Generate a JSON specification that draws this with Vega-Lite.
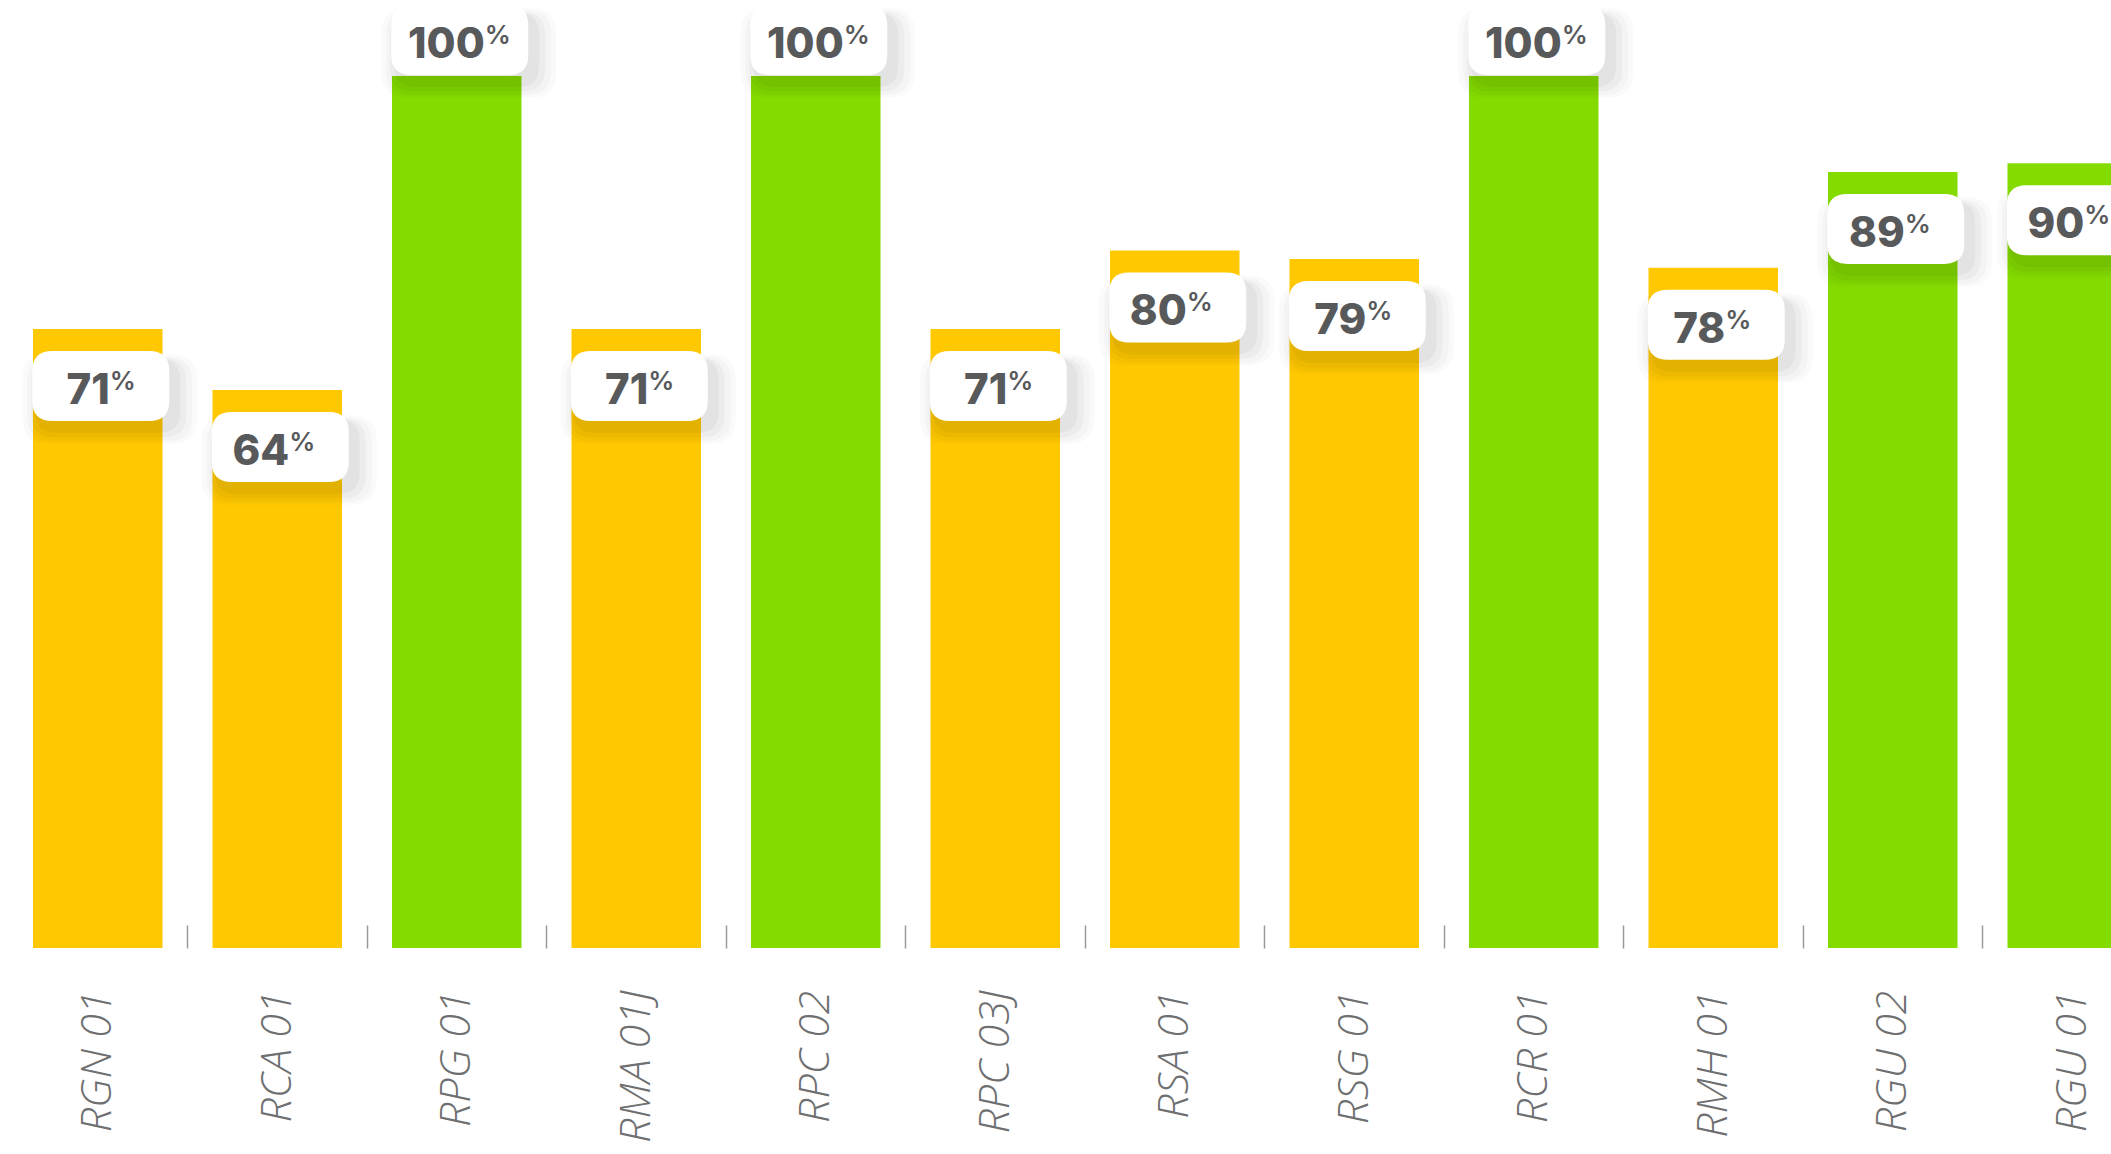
{
  "$schema": "https://vega.github.io/schema/vega-lite/v6.json",
  "autosize": "none",
  "width": 2154,
  "height": 872,
  "padding": {"left": 8, "top": 76, "right": 0, "bottom": 206},
  "background": "white",
  "config": {"view": {"stroke": null}},
  "data": {
    "values": [
      {"label": "RGN 01", "value": 71},
      {"label": "RCA 01", "value": 64},
      {"label": "RPG 01", "value": 100},
      {"label": "RMA 01J", "value": 71},
      {"label": "RPC 02", "value": 100},
      {"label": "RPC 03J", "value": 71},
      {"label": "RSA 01", "value": 80},
      {"label": "RSG 01", "value": 79},
      {"label": "RCR 01", "value": 100},
      {"label": "RMH 01", "value": 78},
      {"label": "RGU 02", "value": 89},
      {"label": "RGU 01", "value": 90}
    ]
  },
  "encoding": {
    "x": {
      "field": "label",
      "type": "nominal",
      "sort": null,
      "scale": {"paddingInner": 0.2786, "paddingOuter": 0.1393},
      "axis": {
        "title": null,
        "domain": false,
        "grid": false,
        "ticks": true,
        "bandPosition": 1,
        "tickOffset": 25,
        "tickColor": "#9A9A9A",
        "tickWidth": 1.5,
        "tickSize": 23,
        "offset": -23,
        "labelAngle": -90,
        "labelAlign": "right",
        "labelBaseline": "middle",
        "labelPadding": 42,
        "labelOffset": -25,
        "labelFont": "Open Sans",
        "labelFontStyle": "italic",
        "labelFontWeight": 300,
        "labelFontSize": 43,
        "labelColor": "#6E6F71",
        "labelOverlap": false,
        "labelBound": false,
        "labelLimit": 0
      }
    },
    "y": {
      "field": "value",
      "type": "quantitative",
      "scale": {"domain": [0, 100], "nice": false, "zero": true},
      "axis": null
    }
  },
  "layer": [
    {
      "mark": {"type": "bar", "opacity": 1},
      "encoding": {
        "color": {
          "condition": {"test": "datum.value >= 85", "value": "#84DB00"},
          "value": "#FFC800"
        }
      }
    },
    {
      "transform": [{"filter": "datum.value < 100"}],
      "layer": [
        {
          "mark": {"type": "point", "filled": true, "strokeWidth": 0, "color": "#000000", "opacity": 0.02, "size": 30625, "xOffset": 12, "yOffset": 70,
            "shape": "M -0.708 -0.511 L 0.708 -0.511 Q 1 -0.511 1 -0.219 L 1 0.219 Q 1 0.511 0.708 0.511 L -0.708 0.511 Q -1 0.511 -1 0.219 L -1 -0.219 Q -1 -0.511 -0.708 -0.511 Z"}
        },
        {
          "mark": {"type": "point", "filled": true, "strokeWidth": 0, "color": "#000000", "opacity": 0.025, "size": 27225, "xOffset": 12, "yOffset": 70,
            "shape": "M -0.708 -0.511 L 0.708 -0.511 Q 1 -0.511 1 -0.219 L 1 0.219 Q 1 0.511 0.708 0.511 L -0.708 0.511 Q -1 0.511 -1 0.219 L -1 -0.219 Q -1 -0.511 -0.708 -0.511 Z"}
        },
        {
          "mark": {"type": "point", "filled": true, "strokeWidth": 0, "color": "#000000", "opacity": 0.03, "size": 24025, "xOffset": 11, "yOffset": 69,
            "shape": "M -0.708 -0.511 L 0.708 -0.511 Q 1 -0.511 1 -0.219 L 1 0.219 Q 1 0.511 0.708 0.511 L -0.708 0.511 Q -1 0.511 -1 0.219 L -1 -0.219 Q -1 -0.511 -0.708 -0.511 Z"}
        },
        {
          "mark": {"type": "point", "filled": true, "strokeWidth": 0, "color": "#000000", "opacity": 0.035, "size": 21025, "xOffset": 10, "yOffset": 67,
            "shape": "M -0.708 -0.511 L 0.708 -0.511 Q 1 -0.511 1 -0.219 L 1 0.219 Q 1 0.511 0.708 0.511 L -0.708 0.511 Q -1 0.511 -1 0.219 L -1 -0.219 Q -1 -0.511 -0.708 -0.511 Z"}
        },
        {
          "mark": {"type": "point", "filled": true, "strokeWidth": 0, "color": "#FFFFFF", "opacity": 1, "size": 18769, "xOffset": 3, "yOffset": 57,
            "shape": "M -0.708 -0.511 L 0.708 -0.511 Q 1 -0.511 1 -0.219 L 1 0.219 Q 1 0.511 0.708 0.511 L -0.708 0.511 Q -1 0.511 -1 0.219 L -1 -0.219 Q -1 -0.511 -0.708 -0.511 Z"}
        },
        {
          "mark": {"type": "text", "font": "Inter", "fontWeight": 800, "fontSize": 42, "color": "#58595B", "align": "right", "baseline": "alphabetic", "xOffset": 12, "yOffset": 75},
          "encoding": {"text": {"field": "value", "type": "quantitative"}}
        },
        {
          "mark": {"type": "text", "font": "Inter", "fontWeight": 600, "fontSize": 26, "color": "#58595B", "align": "left", "baseline": "alphabetic", "xOffset": 12, "yOffset": 61, "text": "%"}
        }
      ]
    },
    {
      "transform": [{"filter": "datum.value >= 100"}],
      "layer": [
        {
          "mark": {"type": "point", "filled": true, "strokeWidth": 0, "color": "#000000", "opacity": 0.02, "size": 30625, "xOffset": 12, "yOffset": -23,
            "shape": "M -0.708 -0.511 L 0.708 -0.511 Q 1 -0.511 1 -0.219 L 1 0.219 Q 1 0.511 0.708 0.511 L -0.708 0.511 Q -1 0.511 -1 0.219 L -1 -0.219 Q -1 -0.511 -0.708 -0.511 Z"}
        },
        {
          "mark": {"type": "point", "filled": true, "strokeWidth": 0, "color": "#000000", "opacity": 0.025, "size": 27225, "xOffset": 12, "yOffset": -23,
            "shape": "M -0.708 -0.511 L 0.708 -0.511 Q 1 -0.511 1 -0.219 L 1 0.219 Q 1 0.511 0.708 0.511 L -0.708 0.511 Q -1 0.511 -1 0.219 L -1 -0.219 Q -1 -0.511 -0.708 -0.511 Z"}
        },
        {
          "mark": {"type": "point", "filled": true, "strokeWidth": 0, "color": "#000000", "opacity": 0.03, "size": 24025, "xOffset": 11, "yOffset": -24,
            "shape": "M -0.708 -0.511 L 0.708 -0.511 Q 1 -0.511 1 -0.219 L 1 0.219 Q 1 0.511 0.708 0.511 L -0.708 0.511 Q -1 0.511 -1 0.219 L -1 -0.219 Q -1 -0.511 -0.708 -0.511 Z"}
        },
        {
          "mark": {"type": "point", "filled": true, "strokeWidth": 0, "color": "#000000", "opacity": 0.035, "size": 21025, "xOffset": 10, "yOffset": -26,
            "shape": "M -0.708 -0.511 L 0.708 -0.511 Q 1 -0.511 1 -0.219 L 1 0.219 Q 1 0.511 0.708 0.511 L -0.708 0.511 Q -1 0.511 -1 0.219 L -1 -0.219 Q -1 -0.511 -0.708 -0.511 Z"}
        },
        {
          "mark": {"type": "point", "filled": true, "strokeWidth": 0, "color": "#FFFFFF", "opacity": 1, "size": 18769, "xOffset": 3, "yOffset": -36,
            "shape": "M -0.708 -0.511 L 0.708 -0.511 Q 1 -0.511 1 -0.219 L 1 0.219 Q 1 0.511 0.708 0.511 L -0.708 0.511 Q -1 0.511 -1 0.219 L -1 -0.219 Q -1 -0.511 -0.708 -0.511 Z"}
        },
        {
          "mark": {"type": "text", "font": "Inter", "fontWeight": 800, "fontSize": 42, "color": "#58595B", "align": "right", "baseline": "alphabetic", "xOffset": 28, "yOffset": -18},
          "encoding": {"text": {"field": "value", "type": "quantitative"}}
        },
        {
          "mark": {"type": "text", "font": "Inter", "fontWeight": 600, "fontSize": 26, "color": "#58595B", "align": "left", "baseline": "alphabetic", "xOffset": 28, "yOffset": -32, "text": "%"}
        }
      ]
    }
  ]
}
